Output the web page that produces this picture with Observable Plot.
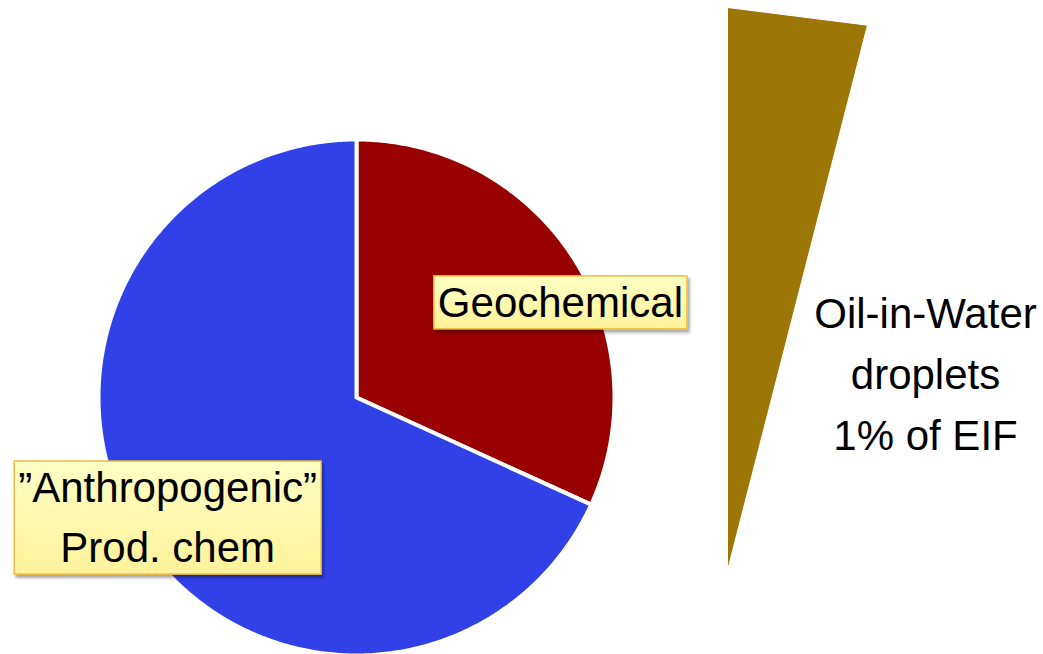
<!DOCTYPE html>
<html>
<head>
<meta charset="utf-8">
<script src="https://cdn.jsdelivr.net/npm/d3@7"></script>
<script src="https://cdn.jsdelivr.net/npm/@observablehq/plot@0.6"></script>
<style>
  html, body { margin: 0; padding: 0; background: #ffffff; }
  #chart { width: 1043px; height: 654px; }
</style>
</head>
<body>
<div id="chart"></div>
<script>
// ---- data ----
const categories = ["Geochemical", "Anthropogenic", "Oil-in-Water droplets"];
const shares = [31.5, 67.5, 1];                   // % of EIF
const colors = ["#990000", "#3141e8", "#9c7708"];
const pieLabels = ["Geochemical", "\u201dAnthropogenic\u201d\nProd. chem"];
const wedgeLabel = "Oil-in-Water\ndroplets\n1% of EIF";

// ---- layout ----
const W = 1043, H = 654;
const CX = 356, CY = 397, R = 258;             // pie centre & radius (px)
const labelRadius = 0.87;                       // in pie radii
const labelAlong = [0.57, 0.5];                 // where along each slice's angle span
const wedgeApex = {x: 371 / R, y: -173 / R};    // in pie radii
const wedgeLength = 563 / R;
const wedgeExaggeration = 4;                    // wedge drawn 4x wider than its share
const wedgeTextPos = {x: 569 / R, y: 22 / R};
const fontFamily = "'Liberation Sans', Arial, Helvetica, sans-serif";

// ---- geometry from data ----
const pieData = categories.slice(0, 2).map((c, i) => ({name: c, share: shares[i], color: colors[i]}));
const arcs = d3.pie().sort(null).value(d => d.share)(pieData);
const pt = (a, r) => ({x: r * Math.sin(a), y: r * Math.cos(a)});

function slicePolygon(arc) {
  const pts = [{x: 0, y: 0}];
  const n = Math.max(8, Math.ceil((arc.endAngle - arc.startAngle) / 0.01));
  for (let k = 0; k <= n; k++) {
    const a = arc.startAngle + (arc.endAngle - arc.startAngle) * k / n;
    pts.push(pt(a, 1));
  }
  pts.push({x: 0, y: 0});
  return pts;
}

const labelData = arcs.map((arc, i) => {
  const a = arc.startAngle + (arc.endAngle - arc.startAngle) * labelAlong[i];
  const p = pt(a, labelRadius);
  return {text: pieLabels[i], x: p.x, y: p.y};
});

const oilShare = shares[2] / d3.sum(shares);
const wedgeSpan = oilShare * 2 * Math.PI * wedgeExaggeration;
const wedgePts = [
  {x: wedgeApex.x, y: wedgeApex.y},
  {x: wedgeApex.x + wedgeLength * Math.sin(0), y: wedgeApex.y + wedgeLength * Math.cos(0)},
  {x: wedgeApex.x + wedgeLength * Math.sin(wedgeSpan), y: wedgeApex.y + wedgeLength * Math.cos(wedgeSpan)},
  {x: wedgeApex.x, y: wedgeApex.y}
];

const marks = [
  ...arcs.map(arc => Plot.line(slicePolygon(arc), {
    x: "x", y: "y", fill: arc.data.color, stroke: "#ffffff", strokeWidth: 4, curve: "linear"
  })),
  Plot.line(wedgePts, {x: "x", y: "y", fill: colors[2], stroke: "#ffffff", strokeWidth: 1, curve: "linear"}),
  Plot.text(labelData, {
    x: "x", y: "y", text: "text", fontSize: 42, lineHeight: 1.43, dy: -6,
    fill: "#000000", fontFamily, textAnchor: "middle"
  }),
  Plot.text([{text: wedgeLabel, ...wedgeTextPos}], {
    x: "x", y: "y", text: "text", fontSize: 42, lineHeight: 1.45, dy: -6,
    fill: "#000000", fontFamily, textAnchor: "middle"
  })
];

const svg = Plot.plot({
  width: W, height: H,
  margin: 0,
  x: {domain: [-CX / R, (W - CX) / R], axis: null},
  y: {domain: [-(H - CY) / R, CY / R], axis: null},
  style: {background: "#ffffff", overflow: "visible"},
  marks
});
document.getElementById("chart").appendChild(svg);

// ---- yellow label boxes behind the pie labels ----
const ns = "http://www.w3.org/2000/svg";
const defs = document.createElementNS(ns, "defs");
defs.innerHTML = `
  <linearGradient id="boxGrad" x1="0" y1="0" x2="0" y2="1">
    <stop offset="0" stop-color="#ffffc4"/>
    <stop offset="1" stop-color="#fff29c"/>
  </linearGradient>
  <filter id="boxShadow" x="-10%" y="-10%" width="130%" height="140%">
    <feDropShadow dx="2" dy="3" stdDeviation="1.5" flood-color="#000" flood-opacity="0.35"/>
  </filter>`;
svg.insertBefore(defs, svg.firstChild);

const textGroups = svg.querySelectorAll('g[aria-label="text"]');
const labelGroup = textGroups[0];
const svgRect = svg.getBoundingClientRect();
const boxLayer = document.createElementNS(ns, "g");
labelGroup.querySelectorAll("text").forEach(t => {
  const b = t.getBoundingClientRect();
  const padX = 4, padY = 3;
  const r = document.createElementNS(ns, "rect");
  r.setAttribute("x", b.left - svgRect.left - padX);
  r.setAttribute("y", b.top - svgRect.top - padY);
  r.setAttribute("width", b.width + 2 * padX);
  r.setAttribute("height", b.height + 2 * padY);
  r.setAttribute("fill", "url(#boxGrad)");
  r.setAttribute("stroke", "#eebd3c");
  r.setAttribute("stroke-width", 1.5);
  r.setAttribute("filter", "url(#boxShadow)");
  boxLayer.appendChild(r);
});
svg.insertBefore(boxLayer, labelGroup);
</script>
</body>
</html>
